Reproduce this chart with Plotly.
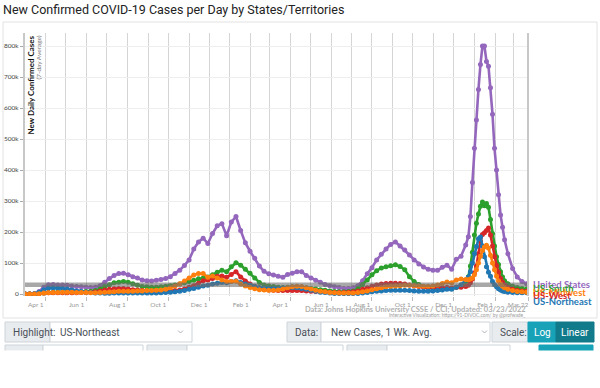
import pandas as pd
import plotly.graph_objects as go

# ---------------- data (thousands of new cases per day, 7-day average) ----------------
dates = (list(pd.date_range("2020-03-01", "2021-12-19", freq="7D"))
         + list(pd.date_range("2021-12-23", "2022-02-15", freq="3D"))
         + list(pd.to_datetime(["2022-02-20", "2022-02-27", "2022-03-06",
                                "2022-03-13", "2022-03-20", "2022-03-22"])))

us_2020 = [0, 0.1, 1, 8, 22, 30, 31, 29, 29, 28, 26, 24, 23, 22, 21, 22, 27, 38, 50, 60, 66, 67,
           62, 56, 52, 45, 43, 42, 44, 47, 50, 56, 66, 77, 92, 110, 145, 168, 180, 163, 195, 220, 227, 188]
us_2021 = [232, 250, 205, 165, 138, 115, 90, 73, 65, 61, 57, 54, 63, 67, 72, 72, 60, 52, 44, 38, 31, 27,
           23, 21, 18, 18, 20, 27, 43, 65, 85, 110, 128, 145, 160, 168, 155, 142, 126, 110, 97, 87, 80, 77,
           77, 86, 93, 80, 112, 122, 158]
us_omi = [185, 250, 360, 470, 561, 660, 740, 800, 800, 750, 735, 665, 580, 470, 400, 320, 255, 215, 175,
          130, 82, 55, 40, 33, 32]

south_2020 = [0, 0, 0.1, 1, 3, 5, 6, 6, 6, 6, 6, 7, 7, 8, 9, 11, 16, 24, 30, 36, 38, 40,
              38, 33, 28, 24, 23, 22, 22, 23, 25, 27, 29, 32, 36, 40, 44, 49, 52, 55, 62, 70, 77, 72]
south_2021 = [88, 101, 93, 80, 67, 52, 37, 29, 26, 24, 22, 21, 22, 23, 23, 22, 20, 18, 16, 14, 12, 10,
              8, 7, 7, 8, 10, 17, 30, 45, 62, 75, 84, 88, 91, 94, 89, 78, 56, 40, 31, 24, 21, 19,
              18, 18, 20, 18, 22, 25, 40]
south_omi = [56, 90, 135, 190, 228, 258, 283, 297, 285, 292, 280, 240, 195, 155, 120, 95, 72, 55, 43,
             33, 25, 21, 18, 16, 15]

west_2020 = [0, 0.1, 0.3, 1.5, 3.5, 4, 4, 4, 4, 4, 4, 4, 4.5, 5, 6, 7, 10, 13, 15, 17, 18, 18,
             16, 14, 13, 11, 10, 9, 8, 8, 9, 10, 11, 13, 16, 22, 27, 35, 43, 45, 50, 57, 58, 54]
west_2021 = [63, 72, 55, 42, 32, 25, 19, 15, 13, 12, 11, 11, 11, 11, 11, 11, 10, 9, 8, 8, 7, 6,
             5, 5, 5, 6, 7, 10, 15, 20, 25, 29, 32, 34, 35, 35, 34, 32, 29, 26, 24, 22, 21, 20,
             20, 20, 21, 19, 22, 22, 24]
west_omi = [28, 36, 48, 68, 90, 130, 170, 192, 198, 205, 213, 190, 155, 120, 92, 70, 50, 38, 29,
            22, 15, 12, 10, 9, 9]

midwest_2020 = [0, 0, 0.2, 1, 3, 4, 5, 5, 6, 6, 6, 5, 5, 4.5, 4, 4, 4.5, 5.5, 6.5, 7.5, 8.5, 9,
                9, 9, 9.5, 10, 11, 11, 12, 13, 15, 20, 26, 33, 42, 52, 61, 66, 66, 54, 58, 52, 45, 40]
midwest_2021 = [40, 41, 32, 26, 21, 17, 14, 13, 12, 12, 13, 16, 20, 23, 25, 24, 20, 16, 12, 9, 7, 5,
                4, 3, 3, 3, 3.5, 5, 7, 10, 14, 17, 20, 23, 25, 26, 27, 28, 28, 27, 26, 25, 25, 26,
                29, 34, 39, 36, 45, 48, 47]
midwest_omi = [46, 48, 52, 62, 78, 100, 122, 140, 152, 157, 148, 125, 100, 78, 58, 42, 32, 25, 20,
               15, 11, 8, 7, 6, 6]

northeast_2020 = [0, 0.1, 0.8, 6, 14, 19, 20, 19, 18, 16, 13, 10, 8, 6, 4.5, 3.5, 3, 2.8, 2.8, 3, 3.2, 3.2,
                  3, 3, 3, 3, 3.2, 3.3, 3.5, 4, 4.5, 6, 7, 9, 11, 15, 18, 22, 26, 28, 32, 35, 37, 36]
northeast_2021 = [40, 43, 37, 32, 28, 24, 21, 19, 18, 18, 18, 19, 20, 21, 20, 18, 15, 12, 9, 6, 4.5, 3,
                  2, 1.5, 1.2, 1.2, 1.5, 2, 3, 5, 7, 9, 10, 11, 12, 12, 12, 12, 11, 10, 9, 9, 9, 10,
                  11, 13, 15, 15, 22, 30, 45]
northeast_omi = [55, 72, 100, 130, 153, 178, 184, 155, 120, 88, 70, 57, 40, 30, 23, 17, 13, 10, 8,
                 6, 5, 4, 4, 4, 4]

series_names = ["United States", "US-South", "US-West", "US-Northeast", "US-Midwest"]
series_values = {
    "United States": us_2020 + us_2021 + us_omi,
    "US-South": south_2020 + south_2021 + south_omi,
    "US-West": west_2020 + west_2021 + west_omi,
    "US-Northeast": northeast_2020 + northeast_2021 + northeast_omi,
    "US-Midwest": midwest_2020 + midwest_2021 + midwest_omi,
}
reference_level = 30000

tick_dates = ["2020-04-01", "2020-06-01", "2020-08-01", "2020-10-01", "2020-12-01", "2021-02-01",
              "2021-04-01", "2021-06-01", "2021-08-01", "2021-10-01", "2021-12-01", "2022-02-01",
              "2022-03-22"]
tick_labels = ["Apr 1", "Jun 1", "Aug 1", "Oct 1", "Dec 1", "Feb 1", "Apr 1", "Jun 1", "Aug 1",
               "Oct 1", "Dec 1", "Feb 1", "Mar 22"]
y_ticks = [0, 100000, 200000, 300000, 400000, 500000, 600000, 700000, 800000]
y_tick_labels = ["0", "100k", "200k", "300k", "400k", "500k", "600k", "700k", "800k"]

# ---------------- styles ----------------
colors = {"United States": "#9467bd", "US-South": "#2ca02c", "US-West": "#d62728",
          "US-Northeast": "#1f77b4", "US-Midwest": "#ff7f0e"}

W, H = 600, 388
L, R, T, B = 25, 528, 33, 296


def px(x):
    return (x - L) / (R - L)


def py(y):
    return (B - y) / (B - T)


fig = go.Figure()
for name in series_names:
    fig.add_trace(go.Scatter(
        x=dates, y=[v * 1000 for v in series_values[name]], name=name,
        mode="lines+markers",
        line=dict(color=colors[name], width=2.6),
        marker=dict(color=colors[name], size=5),
        showlegend=False, hoverinfo="skip"))

CHART_FONT = "Lato, 'Open Sans', sans-serif"
UI_FONT = "Roboto, 'Liberation Sans', sans-serif"

shapes = []
annotations = []

# card border
shapes.append(dict(type="rect", xref="paper", yref="paper", x0=px(3), x1=px(597), y0=py(318), y1=py(22),
                   line=dict(color="#e2e2e2", width=1), fillcolor="rgba(0,0,0,0)", layer="below"))
# reference line
shapes.append(dict(type="line", xref="paper", yref="y", x0=0, x1=1, y0=reference_level, y1=reference_level,
                   line=dict(color="rgba(110,110,110,0.6)", width=4.5), layer="above"))
# right border of plot
shapes.append(dict(type="line", xref="paper", yref="paper", x0=1, x1=1, y0=0, y1=1,
                   line=dict(color="#c8c8c8", width=2), layer="above"))


def box(x0, x1, y0, y1, fill, line="#ced4da"):
    shapes.append(dict(type="rect", xref="paper", yref="paper", x0=px(x0), x1=px(x1),
                       y0=py(y1), y1=py(y0), fillcolor=fill, line=dict(color=line, width=1)))


# row 1 controls
box(5, 50, 322, 342, "#e9ecef")
box(50, 192, 322, 342, "#ffffff")
box(287, 321, 322, 342, "#e9ecef")
box(321, 490, 322, 342, "#ffffff")
box(492, 528, 322, 342, "#e9ecef")
box(528, 556, 322, 342, "#17a2b8", "#17a2b8")
box(556, 594, 322, 342, "#117a8b", "#117a8b")
# row 2 controls (cut off)
box(5, 43, 345, 360, "#e9ecef")
box(43, 143, 345, 360, "#ffffff")
box(147, 187, 345, 360, "#e9ecef")
box(187, 343, 345, 360, "#ffffff")
box(347, 387, 345, 360, "#e9ecef")
box(387, 510, 345, 360, "#ffffff")
box(539, 593, 345, 360, "#17a2b8", "#17a2b8")
shapes.append(dict(type="rect", xref="paper", yref="paper", x0=px(0), x1=px(600), y0=py(388), y1=py(350.5),
                   fillcolor="#ffffff", line=dict(width=0)))

# chevrons
for cx in (180.5, 484.5):
    shapes.append(dict(type="path", xref="paper", yref="paper",
                       path=f"M {px(cx-2.5)},{py(330.5)} L {px(cx)},{py(333)} L {px(cx+2.5)},{py(330.5)}",
                       line=dict(color="#9aa0a6", width=0.8)))


def text(x, y, s, size, color, xanchor="left", family=UI_FONT, angle=0, yanchor="middle"):
    annotations.append(dict(x=px(x), y=py(y), xref="paper", yref="paper", text=s, showarrow=False,
                            xanchor=xanchor, yanchor=yanchor, textangle=angle,
                            font=dict(size=size, color=color, family=family)))


text(11, 332, "Highlight:", 10, "#495057")
text(58, 332, "US-Northeast", 10, "#495057")
text(293, 332, "Data:", 10, "#495057")
text(329, 332, "New Cases, 1 Wk. Avg.", 10, "#495057")
text(498, 332, "Scale:", 10, "#495057")
text(542, 332, "Log", 10, "#ffffff", xanchor="center")
text(575, 332, "Linear", 10, "#ffffff", xanchor="center")

# y-axis title (inside plot)
text(30, 34, "<b>New Daily Confirmed Cases</b>", 8, "#111111", xanchor="center", family=CHART_FONT,
     angle=-90, yanchor="top")
text(37.5, 34, "(7-day Average)", 6.5, "#777777", xanchor="center", family=CHART_FONT,
     angle=-90, yanchor="top")

# source texts
text(528, 309, "<b>Data: Johns Hopkins University CSSE / CCI; Updated: 03/23/2022</b>", 7.5, "#b0b0b0",
     xanchor="right", family=CHART_FONT)
text(528, 315, "Interactive Visualization: https://91-DIVOC.com/ by @profwade_", 4.8, "#999999",
     xanchor="right", family=CHART_FONT)

# end labels
label_y = {"United States": 284, "US-South": 288.5, "US-Midwest": 292, "US-West": 295.5, "US-Northeast": 301.5}
for name in ["United States", "US-South", "US-Midwest", "US-West", "US-Northeast"]:
    text(531, label_y[name], f"<b>{name}</b>", 9.5, colors[name], family=CHART_FONT)

fig.update_layout(
    width=W, height=H,
    margin=dict(l=L, r=W - R, t=T, b=H - B, autoexpand=False),
    paper_bgcolor="#ffffff", plot_bgcolor="#ffffff",
    title=dict(text="New Confirmed COVID-19 Cases per Day by States/Territories",
               x=3 / W, xanchor="left", y=1 - 9.5 / H, yanchor="middle",
               font=dict(family=UI_FONT, size=12.5, color="#222222")),
    shapes=shapes, annotations=annotations,
    xaxis=dict(type="date", range=["2020-03-01", "2022-03-22"], automargin=False,
               tickvals=tick_dates, ticktext=tick_labels,
               ticks="outside", ticklen=4, tickcolor="#bbbbbb", tickwidth=1,
               ticklabelshift=-10, ticklabelstandoff=-2,
               tickfont=dict(family=CHART_FONT, size=6.5, color="#999999"),
               showgrid=True, gridcolor="#d5d5d5", gridwidth=1.3,
               minor=dict(dtick="M1", tick0="2020-03-01", showgrid=True, gridcolor="#d5d5d5", gridwidth=1.3),
               zeroline=False, showline=False),
    yaxis=dict(range=[-6450, 842000], tickvals=y_ticks, ticktext=y_tick_labels, automargin=False,
               ticks="outside", ticklen=3, tickcolor="#aaaaaa",
               tickfont=dict(family=CHART_FONT, size=6.5, color="#444444"),
               showgrid=True, gridcolor="#eeeeee", gridwidth=1,
               zeroline=False, showline=True, linecolor="#c8c8c8", linewidth=2),
)

fig.write_html("out.html", config={"displayModeBar": False},
               post_script="document.body.style.margin='0';document.body.style.overflow='hidden';")
